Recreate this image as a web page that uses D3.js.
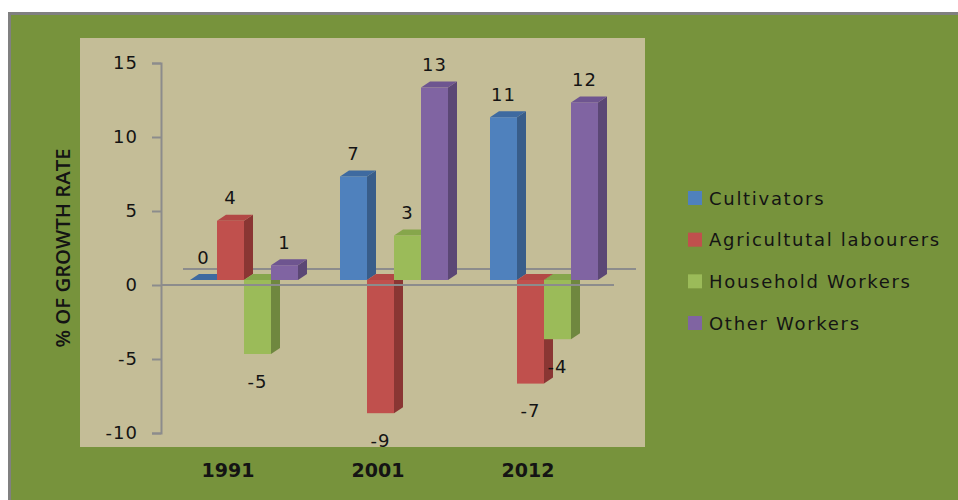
<!DOCTYPE html>
<html>
<head>
<meta charset="utf-8">
<script src="https://cdn.jsdelivr.net/npm/d3@7/dist/d3.min.js"></script>
<style>
  body { margin: 0; background: #fff; }
  text { font-family: "DejaVu Sans", sans-serif; fill: #141414; }
</style>
</head>
<body>
<div id="chart"></div>
<script>
// data
var years = ["1991", "2001", "2012"];
var series = ["Cultivators", "Agricultutal labourers", "Household Workers", "Other Workers"];
var cultivators = [0, 7, 11];
var agriLabourers = [4, -9, -7];
var householdWorkers = [-5, 3, -4];
var otherWorkers = [1, 13, 12];
var yTicks = [-10, -5, 0, 5, 10, 15];

var values = [cultivators, agriLabourers, householdWorkers, otherWorkers];

// colours: front, side, top
var colors = {
  front: ["#4F81BD", "#C0504D", "#9BBB59", "#8064A2"],
  side: ["#385D8A", "#8A3633", "#6F873F", "#5B4775"],
  top: ["#3E6AA0", "#B24845", "#86A64B", "#6E5590"]
};

var W = 958, H = 500;

var svg = d3.select("#chart")
  .append("svg")
  .attr("width", W)
  .attr("height", H);

// outer chart area (green) with grey border on top/left
svg.append("rect")
  .attr("x", 9.5).attr("y", 13.5)
  .attr("width", W).attr("height", H)
  .attr("fill", "#77933C")
  .attr("stroke", "#808080")
  .attr("stroke-width", 3);

// plot area
svg.append("rect")
  .attr("x", 80).attr("y", 38)
  .attr("width", 565).attr("height", 409)
  .attr("fill", "#C4BD97");

// scales
var y = d3.scaleLinear()
  .domain([-10, 15])
  .range([433, 63]);

var x0 = d3.scaleBand()
  .domain(years)
  .range([162, 612]);

var x1 = d3.scaleBand()
  .domain(series)
  .range([28, 136]);

var depth = { dx: 9, dy: 6 };   // bar side / top
var barShift = -5;              // bars stand a bit back from the front axis
var floor = { dx: 22, dy: 16 }; // back wall offset

// back zero line (behind bars)
svg.append("line")
  .attr("x1", 161 + floor.dx).attr("x2", 614 + floor.dx)
  .attr("y1", y(0) - floor.dy).attr("y2", y(0) - floor.dy)
  .attr("stroke", "#8C8C8C")
  .attr("stroke-width", 2);

// y axis
var yAxis = svg.append("g")
  .attr("transform", "translate(161,0)")
  .call(d3.axisLeft(y).tickValues(yTicks).tickSize(9).tickPadding(14)
    .tickFormat(function(d) { return String(d); }));
yAxis.select(".domain").attr("stroke", "#8C8C8C").attr("stroke-width", 2);
yAxis.selectAll(".tick line").attr("stroke", "#8C8C8C").attr("stroke-width", 2);
yAxis.selectAll(".tick text")
  .style("font-family", "DejaVu Sans, sans-serif")
  .style("font-size", "18px")
  .style("letter-spacing", "1px")
  .attr("fill", "#141414");

// y axis title
svg.append("text")
  .attr("transform", "translate(70,248)rotate(-90)")
  .attr("text-anchor", "middle")
  .attr("textLength", 199)
  .attr("lengthAdjust", "spacingAndGlyphs")
  .style("font-family", "Open Sans, sans-serif")
  .style("font-weight", "600")
  .style("font-size", "20px")
  .text("% OF GROWTH RATE");

// bars
var bars = svg.append("g");
years.forEach(function(yr, i) {
  series.forEach(function(s, j) {
    var v = values[j][i];
    var bx = x0(yr) + x1(s),
      bw = x1.bandwidth(),
      yTop = y(Math.max(v, 0)) + barShift,
      yBot = y(Math.min(v, 0)) + barShift;

    // side face
    bars.append("polygon")
      .attr("points", [
        [bx + bw, yTop], [bx + bw + depth.dx, yTop - depth.dy],
        [bx + bw + depth.dx, yBot - depth.dy], [bx + bw, yBot]
      ].join(" "))
      .attr("fill", colors.side[j]);
    // top face
    bars.append("polygon")
      .attr("points", [
        [bx, yTop], [bx + depth.dx, yTop - depth.dy],
        [bx + bw + depth.dx, yTop - depth.dy], [bx + bw, yTop]
      ].join(" "))
      .attr("fill", colors.top[j]);
    // front face
    bars.append("rect")
      .attr("x", bx).attr("y", yTop)
      .attr("width", bw).attr("height", yBot - yTop)
      .attr("fill", colors.front[j]);

    // value label
    bars.append("text")
      .attr("x", bx + bw / 2)
      .attr("y", v >= 0 ? yTop - 23 : yBot + 27)
      .attr("text-anchor", "middle")
      .attr("dominant-baseline", "central")
      .style("font-size", "18px")
      .style("letter-spacing", "1px")
      .text(String(v));
  });
});

// front zero line
svg.append("line")
  .attr("x1", 161).attr("x2", 614)
  .attr("y1", y(0)).attr("y2", y(0))
  .attr("stroke", "#8C8C8C")
  .attr("stroke-width", 2);

// category labels
svg.selectAll(".cat")
  .data(years)
  .enter()
  .append("text")
  .attr("class", "cat")
  .attr("x", function(d) { return x0(d) + x0.bandwidth() / 2 - 9; })
  .attr("y", 470)
  .attr("text-anchor", "middle")
  .attr("dominant-baseline", "central")
  .style("font-size", "19px")
  .style("font-weight", "bold")
  .text(function(d) { return d; });

// legend
var legend = svg.append("g").attr("transform", "translate(688,198)");
var ly = d3.scalePoint().domain(series).range([0, 125]);
legend.selectAll("rect")
  .data(series)
  .enter()
  .append("rect")
  .attr("x", 0)
  .attr("y", function(d) { return ly(d) - 7; })
  .attr("width", 14).attr("height", 14)
  .attr("fill", function(d, i) { return colors.front[i]; });
legend.selectAll("text")
  .data(series)
  .enter()
  .append("text")
  .attr("x", 21)
  .attr("y", function(d) { return ly(d); })
  .attr("dominant-baseline", "central")
  .style("font-size", "18px")
  .style("letter-spacing", "1.7px")
  .text(function(d) { return d; });
</script>
</body>
</html>
